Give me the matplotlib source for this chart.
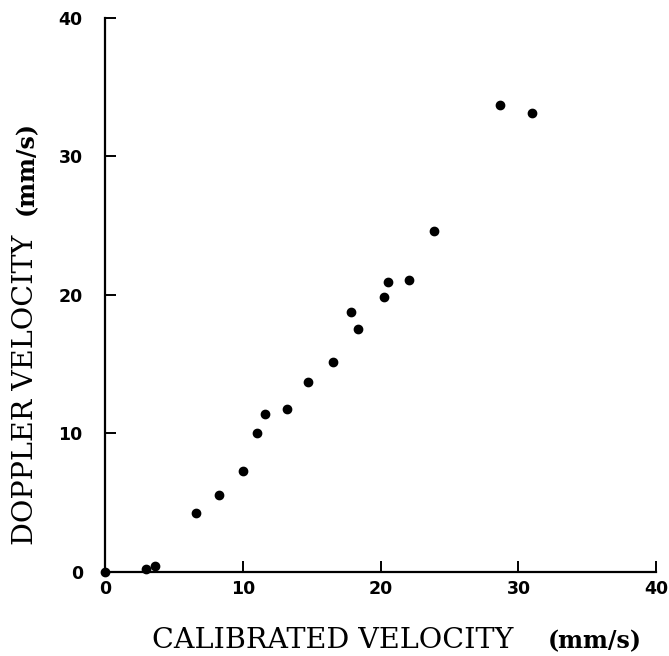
import matplotlib
matplotlib.use("Agg")
import matplotlib.pyplot as plt

calibrated = [0.0, 3.0, 3.65, 6.6, 8.3, 10.0, 11.03, 11.6, 13.2, 14.74, 16.55,
              17.83, 18.37, 20.23, 20.52, 22.05, 23.86, 28.63, 30.95]
doppler = [0.0, 0.2, 0.43, 4.25, 5.55, 7.26, 10.0, 11.4, 11.8, 13.74, 15.19,
           18.73, 17.55, 19.87, 20.95, 21.05, 24.6, 33.7, 33.1]
ticks = [0, 10, 20, 30, 40]

fig = plt.figure(figsize=(6.69, 6.56), dpi=100)
ax = fig.add_axes([0.157, 0.128, 0.824, 0.845])
ax.scatter(calibrated, doppler, s=36, color="black", clip_on=False, zorder=3)
ax.set_xlim(0, 40)
ax.set_ylim(0, 40)
ax.set_xticks(ticks)
ax.set_yticks(ticks)
ax.spines["top"].set_visible(False)
ax.spines["right"].set_visible(False)
for s in ("left", "bottom"):
    ax.spines[s].set_linewidth(1.6)
ax.tick_params(axis="both", direction="in", length=8, width=1.4)
ax.tick_params(axis="x", pad=6)
ax.tick_params(axis="y", pad=16)
for lab in ax.get_xticklabels() + ax.get_yticklabels():
    lab.set_fontfamily("DejaVu Sans")
    lab.set_fontweight("bold")
    lab.set_fontsize(12.5)

serif = "DejaVu Serif"
fig.text(152 / 669, 1 - 648 / 656, "CALIBRATED VELOCITY", family=serif,
         fontsize=20.5, ha="left", va="baseline")
fig.text(548 / 669, 1 - 648 / 656, "(mm/s)", family=serif, fontsize=17,
         fontweight="bold", ha="left", va="baseline")
fig.text(33 / 669, 1 - 545 / 656, "DOPPLER VELOCITY", family=serif,
         fontsize=20.5, rotation=90, rotation_mode="anchor",
         ha="left", va="baseline")
fig.text(33 / 669, 1 - 215 / 656, "(mm/s)", family=serif, fontsize=17,
         fontweight="bold", rotation=90, rotation_mode="anchor",
         ha="left", va="baseline")

fig.savefig("out.png", dpi=100)
